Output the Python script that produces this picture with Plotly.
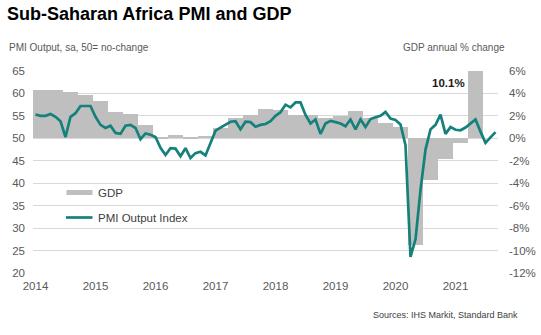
import pandas as pd
import plotly.graph_objects as go

# ---- data -----------------------------------------------------------------
months = pd.period_range("2014-01", "2021-09", freq="M")
pmi_output = [
    55.3, 55.0, 55.0, 55.4, 54.8, 53.8, 50.3, 54.8, 55.6, 57.2, 57.2, 57.2,  # 2014
    54.8, 53.0, 52.3, 52.8, 51.2, 51.0, 52.8, 53.0, 52.3, 49.8, 51.1, 50.8,  # 2015
    50.3, 47.9, 46.3, 47.8, 47.7, 46.0, 47.8, 45.6, 46.7, 47.0, 46.2, 49.0,  # 2016
    51.7, 52.4, 53.0, 53.7, 53.8, 52.0, 53.7, 53.6, 52.6, 53.0, 53.2, 53.8,  # 2017
    55.0, 55.8, 57.5, 56.9, 58.0, 58.0, 55.2, 53.3, 54.2, 51.0, 53.3, 53.9,  # 2018
    53.6, 53.3, 52.7, 54.2, 52.0, 54.2, 52.5, 54.3, 54.7, 55.0, 55.9, 54.4,  # 2019
    54.1, 53.1, 48.5, 23.6, 27.5, 38.5, 47.5, 52.0, 53.0, 55.3, 51.0, 52.5,  # 2020
    51.9, 51.8, 52.4, 53.3, 54.2, 51.5, 49.0, 50.2, 51.4,                    # 2021
]

quarters = pd.period_range("2014Q1", "2021Q2", freq="Q")
gdp_growth = [
    4.3, 4.3, 4.15, 3.85,     # 2014
    3.3, 2.35, 2.15, 1.2,     # 2015
    0.15, 0.3, 0.05, 0.2,     # 2016
    0.95, 1.8, 2.05, 2.6,     # 2017
    2.5, 2.05, 2.05, 1.8,     # 2018
    2.0, 2.4, 1.8, 1.35,      # 2019
    1.05, -9.5, -3.7, -1.8,   # 2020
    -0.45, 10.1,              # 2021
]

years = list(range(2014, 2022))
pmi_ticks = list(range(20, 70, 5))
gdp_ticks = list(range(-12, 8, 2))

# ---- positions on a monthly index axis ---------------------------------------
def month_index(p):
    return (p.year - years[0]) * 12 + p.month - 1

month_x = [month_index(p) for p in months]
# each GDP bar covers the three months of its quarter
quarter_x = [month_index(q.asfreq("M", "start")) + 1 for q in quarters]

# ---- page geometry ------------------------------------------------------------
FIG_W, FIG_H = 541, 335
L, R, T, B = 33, 43, 71, 62
PW, PH = FIG_W - L - R, FIG_H - T - B


def px_x(px):
    return (px - L) / PW


def px_y(py):
    return (T + PH - py) / PH


FONT = "Liberation Sans, Arial, sans-serif"
TEAL = "#14817b"
BAR_GREY = "#bfbfbf"
TICK_GREY = "#595959"

fig = go.Figure()

fig.add_trace(go.Bar(
    x=quarter_x, y=gdp_growth, width=3, yaxis="y",
    marker=dict(color=BAR_GREY, line=dict(width=0)),
    name="GDP", showlegend=False,
))
fig.add_trace(go.Scatter(
    x=month_x, y=pmi_output, yaxis="y2", mode="lines",
    line=dict(color=TEAL, width=2.7),
    name="PMI Output Index", showlegend=False,
))

tickfont = dict(family=FONT, size=11.5, color=TICK_GREY)

fig.update_layout(
    width=FIG_W, height=FIG_H,
    margin=dict(l=L, r=R, t=T, b=B, pad=0, autoexpand=False),
    paper_bgcolor="white", plot_bgcolor="white",
    font=dict(family=FONT, color="#404040"),
    showlegend=False,
    title=dict(
        text="<b>Sub-Saharan Africa PMI and GDP</b>",
        font=dict(family=FONT, size=18, color="#000000"),
        x=7 / FIG_W, xanchor="left", xref="container",
        y=1 - 14 / FIG_H, yanchor="middle", yref="container",
    ),
    xaxis=dict(
        range=[-0.5, len(months) - 0.5],
        tickvals=[12 * (y - years[0]) for y in years],
        ticktext=[str(y) for y in years],
        showgrid=False, zeroline=False, showline=False, ticks="",
        tickfont=tickfont, ticklabelstandoff=4, automargin=False,
    ),
    yaxis=dict(
        side="right", range=[gdp_ticks[0], gdp_ticks[-1]],
        tickvals=gdp_ticks, ticktext=[f"{v}%" for v in gdp_ticks],
        showgrid=False, zeroline=False, showline=False, ticks="",
        tickfont=tickfont, ticklabelstandoff=10, automargin=False,
    ),
    yaxis2=dict(
        overlaying="y", side="left", range=[pmi_ticks[0], pmi_ticks[-1]],
        tickvals=pmi_ticks,
        showgrid=True, gridcolor="#d9d9d9", gridwidth=1,
        zeroline=False, showline=False, ticks="",
        tickfont=tickfont, ticklabelstandoff=7, automargin=False,
    ),
    bargap=0,
)

annotations = [
    dict(text="PMI Output, sa, 50= no-change", x=px_x(7), y=px_y(48),
         xanchor="left", yanchor="middle",
         font=dict(family=FONT, size=10, color=TICK_GREY)),
    dict(text="GDP annual % change", x=px_x(507), y=px_y(48),
         xanchor="right", yanchor="middle",
         font=dict(family=FONT, size=10, color=TICK_GREY)),
    dict(text="Sources: IHS Markit, Standard Bank", x=px_x(520), y=px_y(315),
         xanchor="right", yanchor="middle",
         font=dict(family=FONT, size=9, color="#404040")),
    dict(text="GDP", x=px_x(96), y=px_y(192.5), xanchor="left", yanchor="middle",
         font=dict(family=FONT, size=11.5, color="#404040")),
    dict(text="PMI Output Index", x=px_x(96), y=px_y(217.5),
         xanchor="left", yanchor="middle",
         font=dict(family=FONT, size=11.5, color="#404040")),
]
for a in annotations:
    a.update(xref="paper", yref="paper", showarrow=False)

# value label on the latest GDP bar, which runs off the top of the axis
last_left_edge = quarter_x[-1] - 1.5
annotations.append(dict(
    text=f"<b>{gdp_growth[-1]:.1f}%</b>", x=last_left_edge, y=4.95,
    xref="x", yref="y", xanchor="right", yanchor="middle", xshift=-1,
    showarrow=False, font=dict(family=FONT, size=11.5, color="#1a1a1a"),
))
fig.update_layout(annotations=annotations)

# legend swatches
fig.add_shape(type="rect", xref="paper", yref="paper",
              x0=px_x(66.5), x1=px_x(92.5), y0=px_y(195), y1=px_y(190),
              fillcolor=BAR_GREY, line=dict(width=0))
fig.add_shape(type="line", xref="paper", yref="paper",
              x0=px_x(66), x1=px_x(92.5), y0=px_y(217.5), y1=px_y(217.5),
              line=dict(color=TEAL, width=2.7))

fig.write_html("out.html")
